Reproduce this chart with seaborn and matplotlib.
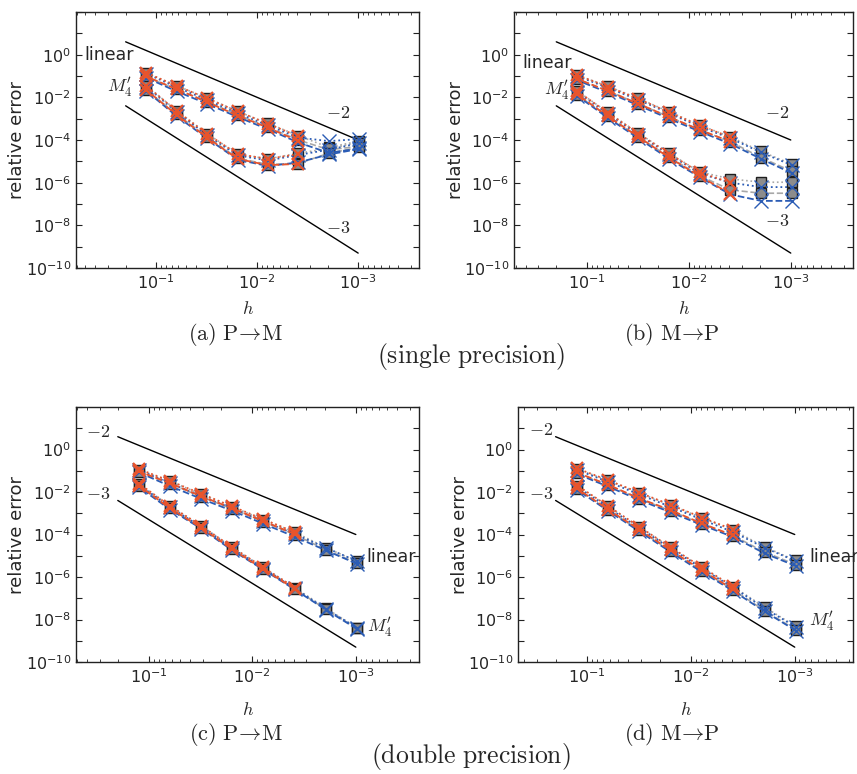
import numpy as np
import matplotlib
matplotlib.use("Agg")
import matplotlib.pyplot as plt
import seaborn as sns
from matplotlib.ticker import LogLocator, FuncFormatter, NullLocator

# mesh widths h = 1/8 ... 1/1024
h = [0.125, 0.0625, 0.03125, 0.015625, 0.0078125, 0.00390625, 0.001953125, 0.0009765625]

# reference slope lines
h_ref = [0.2, 0.001]
ref_slope2 = [4.0, 1.0e-4]
ref_slope3 = [4.0e-3, 5.0e-10]

# (a) single precision, P->M
a_lin_dot_gray = [1.4e-1, 3.5e-2, 9.3e-3, 2.2e-3, 6.0e-4, 1.6e-4, 4.5e-5, 8.9e-5]
a_lin_dash_gray = [8.9e-2, 2.4e-2, 6.3e-3, 1.5e-3, 4.0e-4, 1.0e-4, 3.5e-5, 5.0e-5]
a_lin_dot_blue = [1.3e-1, 3.0e-2, 7.6e-3, 1.8e-3, 4.8e-4, 1.3e-4, 8.9e-5, 1.1e-4]
a_lin_dash_blue = [8.3e-2, 1.9e-2, 5.0e-3, 1.2e-3, 3.2e-4, 7.6e-5, 2.5e-5, 4.0e-5]
a_lin_dot_red = [1.4e-1, 3.5e-2, 8.9e-3, 2.2e-3, 5.8e-4, 1.5e-4]
a_lin_dash_red = [9.5e-2, 2.4e-2, 6.0e-3, 1.4e-3, 3.8e-4, 8.9e-5]
a_m4_dot_gray = [3.5e-2, 2.4e-3, 2.0e-4, 2.2e-5, 1.3e-5, 2.4e-5, 4.0e-5, 7.6e-5]
a_m4_dash_gray = [2.2e-2, 1.6e-3, 1.4e-4, 1.4e-5, 7.1e-6, 7.9e-6, 2.4e-5, 4.5e-5]
a_m4_dot_blue = [3.2e-2, 2.0e-3, 1.7e-4, 1.9e-5, 1.1e-5, 2.0e-5, 3.5e-5, 7.1e-5]
a_m4_dash_blue = [2.0e-2, 1.3e-3, 1.2e-4, 1.2e-5, 6.0e-6, 8.9e-6, 2.1e-5, 3.8e-5]
a_m4_dot_red = [3.5e-2, 2.3e-3, 1.9e-4, 2.2e-5, 1.3e-5, 2.2e-5]
a_m4_dash_red = [2.2e-2, 1.5e-3, 1.3e-4, 1.3e-5, 6.6e-6, 7.6e-6]

# (b) single precision, M->P
b_lin_dot_gray = [1.1e-1, 3.3e-2, 8.9e-3, 2.1e-3, 5.0e-4, 1.4e-4, 2.9e-5, 7.4e-6]
b_lin_dash_gray = [7.1e-2, 2.0e-2, 5.0e-3, 1.2e-3, 3.0e-4, 8.3e-5, 1.5e-5, 3.4e-6]
b_lin_dot_blue = [1.0e-1, 2.8e-2, 7.6e-3, 1.8e-3, 4.2e-4, 1.2e-4, 2.6e-5, 6.6e-6]
b_lin_dash_blue = [6.3e-2, 1.7e-2, 4.2e-3, 1.0e-3, 2.5e-4, 6.6e-5, 1.3e-5, 2.8e-6]
b_lin_dot_red = [1.1e-1, 3.2e-2, 8.5e-3, 2.0e-3, 4.8e-4, 1.35e-4]
b_lin_dash_red = [7.4e-2, 2.0e-2, 5.0e-3, 1.2e-3, 3.0e-4, 8.3e-5]
b_m4_dot_gray = [2.0e-2, 2.0e-3, 2.1e-4, 2.4e-5, 3.2e-6, 1.5e-6, 1.05e-6, 1.05e-6]
b_m4_dash_gray = [1.3e-2, 1.3e-3, 1.4e-4, 1.6e-5, 2.1e-6, 4.6e-7, 3.2e-7, 3.2e-7]
b_m4_dot_blue = [1.8e-2, 1.7e-3, 1.8e-4, 2.1e-5, 2.7e-6, 1.0e-6, 6.2e-7, 6.2e-7]
b_m4_dash_blue = [1.2e-2, 1.1e-3, 1.2e-4, 1.3e-5, 1.8e-6, 2.8e-7, 1.4e-7, 1.4e-7]
b_m4_dot_red = [2.0e-2, 1.9e-3, 2.0e-4, 2.3e-5, 3.0e-6, 1.0e-6]
b_m4_dash_red = [1.4e-2, 1.3e-3, 1.4e-4, 1.5e-5, 2.0e-6, 3.0e-7]

# (c) double precision, P->M
c_lin_dot_gray = [1.1e-1, 3.2e-2, 7.9e-3, 2.0e-3, 5.0e-4, 1.3e-4, 2.4e-5, 5.6e-6]
c_lin_dash_gray = [8.9e-2, 2.5e-2, 6.0e-3, 1.6e-3, 4.0e-4, 1.0e-4, 1.9e-5, 4.5e-6]
c_lin_dot_blue = [1.05e-1, 2.6e-2, 6.3e-3, 1.7e-3, 4.2e-4, 1.05e-4, 2.4e-5, 5.6e-6]
c_lin_dash_blue = [8.3e-2, 1.9e-2, 4.8e-3, 1.3e-3, 3.2e-4, 7.9e-5, 1.8e-5, 4.2e-6]
c_lin_dot_red = [1.2e-1, 3.3e-2, 8.3e-3, 2.1e-3, 5.2e-4, 1.3e-4]
c_lin_dash_red = [9.3e-2, 2.6e-2, 6.3e-3, 1.7e-3, 4.2e-4, 1.05e-4]
c_m4_dot_gray = [2.4e-2, 2.2e-3, 2.6e-4, 2.5e-5, 2.8e-6, 3.2e-7, 3.4e-8, 4.2e-9]
c_m4_dash_gray = [1.9e-2, 1.7e-3, 2.1e-4, 2.0e-5, 2.3e-6, 2.8e-7, 3.0e-8, 3.8e-9]
c_m4_dot_blue = [2.2e-2, 1.9e-3, 2.3e-4, 2.2e-5, 2.5e-6, 2.9e-7, 3.2e-8, 4.0e-9]
c_m4_dash_blue = [1.7e-2, 1.5e-3, 1.9e-4, 1.8e-5, 2.2e-6, 2.6e-7, 2.9e-8, 3.6e-9]
c_m4_dot_red = [2.5e-2, 2.2e-3, 2.6e-4, 2.5e-5, 2.8e-6, 3.2e-7]
c_m4_dash_red = [2.0e-2, 1.7e-3, 2.1e-4, 2.0e-5, 2.3e-6, 2.8e-7]

# (d) double precision, M->P
d_lin_dot_gray = [1.2e-1, 3.5e-2, 8.9e-3, 2.4e-3, 6.0e-4, 1.6e-4, 2.6e-5, 6.0e-6]
d_lin_dash_gray = [7.9e-2, 2.1e-2, 4.8e-3, 1.3e-3, 3.2e-4, 8.7e-5, 1.5e-5, 3.8e-6]
d_lin_dot_blue = [1.1e-1, 3.0e-2, 7.6e-3, 2.0e-3, 5.0e-4, 1.3e-4, 2.4e-5, 5.6e-6]
d_lin_dash_blue = [7.1e-2, 1.8e-2, 4.2e-3, 1.1e-3, 2.8e-4, 7.6e-5, 1.3e-5, 3.3e-6]
d_lin_dot_red = [1.3e-1, 3.6e-2, 9.3e-3, 2.5e-3, 6.3e-4, 1.7e-4]
d_lin_dash_red = [8.3e-2, 2.2e-2, 5.0e-3, 1.4e-3, 3.3e-4, 9.1e-5]
d_m4_dot_gray = [2.0e-2, 2.1e-3, 2.2e-4, 2.5e-5, 2.8e-6, 3.5e-7, 3.8e-8, 4.8e-9]
d_m4_dash_gray = [1.4e-2, 1.4e-3, 1.6e-4, 1.7e-5, 2.0e-6, 2.5e-7, 2.6e-8, 3.3e-9]
d_m4_dot_blue = [1.8e-2, 1.8e-3, 2.0e-4, 2.2e-5, 2.5e-6, 3.2e-7, 3.4e-8, 4.4e-9]
d_m4_dash_blue = [1.3e-2, 1.3e-3, 1.4e-4, 1.5e-5, 1.7e-6, 2.2e-7, 2.4e-8, 3.0e-9]
d_m4_dot_red = [2.1e-2, 2.2e-3, 2.3e-4, 2.5e-5, 2.9e-6, 3.6e-7]
d_m4_dash_red = [1.5e-2, 1.5e-3, 1.7e-4, 1.8e-5, 2.1e-6, 2.6e-7]

sns.set_style("ticks")
plt.rcParams.update({
    "font.family": ["DejaVu Sans"],
    "axes.unicode_minus": False,
    "axes.edgecolor": "#222222",
    "axes.linewidth": 1.0,
    "xtick.direction": "in",
    "ytick.direction": "in",
    "xtick.major.size": 4,
    "ytick.major.size": 4,
    "xtick.minor.size": 2,
    "xtick.labelsize": 11.5,
    "ytick.labelsize": 11.5,
})

RED = "#e8542c"
BLUE = "#2b5cb5"
GRAY = "#a8a8a8"

fig = plt.figure(figsize=(8.57, 7.74), dpi=100)


def px_axes(l, t, r, b):
    return fig.add_axes([l / 857, 1 - b / 774, (r - l) / 857, (b - t) / 774])


def draw(ax, y, kind, ls):
    x = h[:len(y)]
    if kind == "gray":
        sns.lineplot(x=x, y=y, ax=ax, color=GRAY, ls=ls, lw=1.2, marker="s", ms=7,
                     mfc="#8c8c8c", mec="#1e1e1e", mew=1.0, errorbar=None, zorder=3)
    elif kind == "blue":
        sns.lineplot(x=x, y=y, ax=ax, color=BLUE, ls=ls, lw=1.3, marker="x", ms=10,
                     mec=BLUE, mew=1.0, errorbar=None, zorder=4)
    else:
        sns.lineplot(x=x, y=y, ax=ax, color=RED, ls=ls, lw=1.3, marker="x", ms=9,
                     mec=RED, mew=1.6, errorbar=None, zorder=5)


def ytick_fmt(v, pos):
    n = int(round(np.log10(v)))
    if n % 2 or n > 0:
        return ""
    return "$10^{%d}$" % n


panels = {
    "a": dict(box=(76, 12, 419, 268), xlim=(0.62, 2.5e-4), xpad=6,
              series=[a_lin_dot_gray, a_lin_dash_gray, a_m4_dot_gray, a_m4_dash_gray,
                      a_lin_dot_blue, a_lin_dash_blue, a_m4_dot_blue, a_m4_dash_blue,
                      a_lin_dot_red, a_lin_dash_red, a_m4_dot_red, a_m4_dash_red],
              texts=[(0.096, 0.832, "linear", "center"), (0.127, 0.707, "$M_4'$", "center"),
                     (0.764, 0.605, "$-2$", "center"), (0.764, 0.156, "$-3$", "center")]),
    "b": dict(box=(514, 12, 853, 268), xlim=(0.52, 2.45e-4), xpad=6,
              series=[b_lin_dot_gray, b_lin_dash_gray, b_m4_dot_gray, b_m4_dash_gray,
                      b_lin_dot_blue, b_lin_dash_blue, b_m4_dot_blue, b_m4_dash_blue,
                      b_lin_dot_red, b_lin_dash_red, b_m4_dot_red, b_m4_dash_red],
              texts=[(0.099, 0.80, "linear", "center"), (0.125, 0.695, "$M_4'$", "center"),
                     (0.776, 0.605, "$-2$", "center"), (0.776, 0.185, "$-3$", "center")]),
    "c": dict(box=(76, 407, 419, 662), xlim=(0.507, 2.45e-4), xpad=11,
              series=[c_lin_dot_gray, c_lin_dash_gray, c_m4_dot_gray, c_m4_dash_gray,
                      c_lin_dot_blue, c_lin_dash_blue, c_m4_dot_blue, c_m4_dash_blue,
                      c_lin_dot_red, c_lin_dash_red, c_m4_dot_red, c_m4_dash_red],
              texts=[(0.064, 0.903, "$-2$", "center"), (0.064, 0.659, "$-3$", "center"),
                     (0.848, 0.413, "linear", "left"), (0.848, 0.138, "$M_4'$", "left")]),
    "d": dict(box=(518, 407, 853, 662), xlim=(0.46, 2.75e-4), xpad=11,
              series=[d_lin_dot_gray, d_lin_dash_gray, d_m4_dot_gray, d_m4_dash_gray,
                      d_lin_dot_blue, d_lin_dash_blue, d_m4_dot_blue, d_m4_dash_blue,
                      d_lin_dot_red, d_lin_dash_red, d_m4_dot_red, d_m4_dash_red],
              texts=[(0.069, 0.91, "$-2$", "center"), (0.069, 0.659, "$-3$", "center"),
                     (0.869, 0.413, "linear", "left"), (0.869, 0.158, "$M_4'$", "left")]),
}

kinds = ["gray"] * 4 + ["blue"] * 4 + ["red"] * 4
styles = [":", "--"] * 6

for key, p in panels.items():
    ax = px_axes(*p["box"])
    ax.set_xscale("log")
    ax.set_yscale("log")
    ax.plot(h_ref, ref_slope2, color="black", lw=1.0, zorder=2)
    ax.plot(h_ref, ref_slope3, color="black", lw=1.0, zorder=2)
    for y, kind, ls in zip(p["series"], kinds, styles):
        draw(ax, y, kind, ls)
    ax.set_xlim(*p["xlim"])
    ax.set_ylim(1e-10, 1e2)
    ax.yaxis.set_major_locator(LogLocator(base=10, numticks=30))
    ax.yaxis.set_major_formatter(FuncFormatter(ytick_fmt))
    ax.yaxis.set_minor_locator(NullLocator())
    ax.xaxis.set_major_locator(LogLocator(base=10, numticks=10))
    ax.tick_params(which="both", top=True, right=True, color="#222222")
    for s in ax.spines.values():
        s.set_visible(True)
    ax.set_ylabel("relative error", fontsize=13)
    ax.yaxis.set_label_coords(-0.145, 0.5)
    ax.set_xlabel("$h$", fontsize=13, math_fontfamily="cm", labelpad=p["xpad"])
    for fx, fy, s, ha in p["texts"]:
        if s == "linear":
            ax.text(fx, fy, s, transform=ax.transAxes, ha=ha, va="center", fontsize=12.5)
        else:
            ax.text(fx, fy, s, transform=ax.transAxes, ha=ha, va="center", fontsize=13,
                    math_fontfamily="cm")

caps = [(236, 334, r"$\mathrm{(a)\ P\!\rightarrow\!M}$"),
        (672, 334, r"$\mathrm{(b)\ M\!\rightarrow\!P}$"),
        (236, 734, r"$\mathrm{(c)\ P\!\rightarrow\!M}$"),
        (672, 734, r"$\mathrm{(d)\ M\!\rightarrow\!P}$")]
for x, y, s in caps:
    fig.text(x / 857, 1 - y / 774, s, ha="center", va="center", fontsize=16,
             math_fontfamily="cm")
fig.text(471 / 857, 1 - 357 / 774, r"$\mathrm{(single\ precision)}$", ha="center",
         va="center", fontsize=18.5, math_fontfamily="cm")
fig.text(471 / 857, 1 - 757 / 774, r"$\mathrm{(double\ precision)}$", ha="center",
         va="center", fontsize=18.5, math_fontfamily="cm")

fig.savefig("out.png", dpi=100)
